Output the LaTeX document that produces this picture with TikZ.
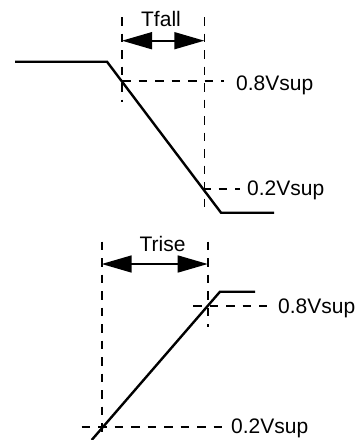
\documentclass[tikz,border=0pt]{standalone}
\usepackage{fontspec}
\setmainfont{Liberation Sans}
\usetikzlibrary{arrows.meta}
\begin{document}
\begin{tikzpicture}[x=1pt,y=-1pt,
  signal/.style={line width=2.4pt},
  guide/.style={line width=1.6pt,dash pattern=on 8.5pt off 8pt},
  span/.style={line width=1.6pt,{Triangle[length=30pt,width=17pt]}-{Triangle[length=30pt,width=17pt]}},
  lbl/.style={inner sep=0pt,font=\fontsize{21}{25}\selectfont}]
\useasboundingbox (0,0) rectangle (361,440);
% ---- fall ----
\coordinate (a1) at (15,61.7);
\coordinate (a2) at (107,61.7);
\coordinate (a3) at (221,212.7);
\coordinate (a4) at (274,212.7);
\draw[signal] (a1) -- (a2) -- (a3) -- (a4);
\coordinate (fl1) at (122,17);
\coordinate (fl2) at (122,102);
\coordinate (fr1) at (204.3,17);
\coordinate (fr2) at (204.3,212);
\draw[guide] (fl1) -- (fl2);
\draw[guide] (fr1) -- (fr2);
\coordinate (fal) at (122,40.7);
\coordinate (far) at (204.3,40.7);
\draw[span] (fal) -- (far);
\node[lbl,anchor=base] (tfall) at (161,26.7) {Tfall};
\node[lbl,anchor=base west] (f8) at (236,90.7) {0.8Vsup};
\node[lbl,anchor=base west] (f2) at (247,195.7) {0.2Vsup};
\coordinate (f8s) at (122,81);
\coordinate (f8e) at (224,81);
\draw[guide] (f8s) -- (f8e);
\coordinate (f2s) at (202,189);
\coordinate (f2e) at (240,189);
\draw[guide] (f2s) -- (f2e);
% ---- rise ----
\coordinate (b1) at (91.7,440);
\coordinate (b2) at (220,291.7);
\coordinate (b3) at (255,291.7);
\draw[signal] (b1) -- (b2) -- (b3);
\coordinate (rl1) at (101.7,241.7);
\coordinate (rl2) at (101.7,438);
\coordinate (rr1) at (207.7,241.7);
\coordinate (rr2) at (207.7,326.7);
\draw[guide] (rl1) -- (rl2);
\draw[guide] (rr1) -- (rr2);
\coordinate (ral) at (101.7,264);
\coordinate (rar) at (207.7,264);
\draw[span] (ral) -- (rar);
\node[lbl,anchor=base] (trise) at (162.5,251.7) {Trise};
\node[lbl,anchor=base west] (r8) at (278,313.3) {0.8Vsup};
\node[lbl,anchor=base west] (r2) at (231,433.3) {0.2Vsup};
\coordinate (r8s) at (193,306);
\coordinate (r8e) at (267,306);
\draw[guide] (r8s) -- (r8e);
\coordinate (r2s) at (81.7,426.7);
\coordinate (r2e) at (227,426.7);
\draw[guide] (r2s) -- (r2e);
\end{tikzpicture}
\end{document}
